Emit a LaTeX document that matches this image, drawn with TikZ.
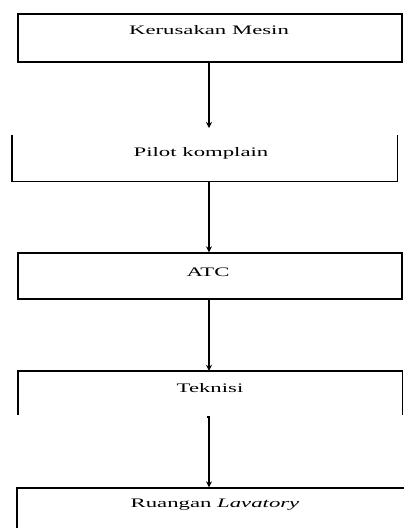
\documentclass[tikz,border=0pt]{standalone}
\usepackage{fontspec}
\setmainfont{Liberation Serif}
\usetikzlibrary{arrows.meta}
\newcommand\stretchtxt[1]{\scalebox{1.75}[1]{#1}}
\begin{document}
\begin{tikzpicture}[x=1pt,y=1pt,
  frame/.style={draw,line width=1.4pt,inner sep=0pt},
  openbox/.style={inner sep=0pt},
  lbl/.style={font=\fontsize{13}{15}\selectfont,inner sep=0pt},
  link/.style={line width=1.4pt,-{Stealth[length=6pt,width=6pt]}},
  plain/.style={line width=1.4pt}]
\clip (0,0) rectangle (404,-528);
% boxes
\node[frame,minimum width=384,minimum height=48] (b1) at (210,-38) {};
\node[openbox,minimum width=385,minimum height=46] (b2) at (204.5,-158) {};
\node[frame,minimum width=384,minimum height=46] (b3) at (210,-276) {};
\node[openbox,minimum width=384,minimum height=44] (b4) at (210,-393) {};
\node[frame,minimum width=400,minimum height=50] (b5) at (217,-513) {};
\draw[plain] (b2.north west) -- (b2.south west) -- (b2.south east) -- (b2.north east);
\draw[plain] (b4.south west) -- (b4.north west) -- (b4.north east) -- (b4.south east);
% labels
\node[lbl] (t1) at (209,-30) {\stretchtxt{Kerusakan Mesin}};
\node[lbl] (t2) at (201,-153) {\stretchtxt{Pilot komplain}};
\node[lbl] (t3) at (208,-272) {\stretchtxt{ATC}};
\node[lbl] (t4) at (210,-388) {\stretchtxt{Teknisi}};
\node[lbl] (t5) at (215,-505) {\stretchtxt{Ruangan \textit{Lavatory}}};
% connectors
\coordinate (e1) at (209,-128);
\coordinate (s4) at (209,-417);
\draw[link] (209,-62) -- (e1);
\draw[link] (b2.south -| e1) -- (b3.north -| e1);
\draw[link] (b3.south -| e1) -- (b4.north -| e1);
\draw[link] (s4) ++(-2,0) -- (s4) -- (b5.north -| s4);
\end{tikzpicture}
\end{document}
